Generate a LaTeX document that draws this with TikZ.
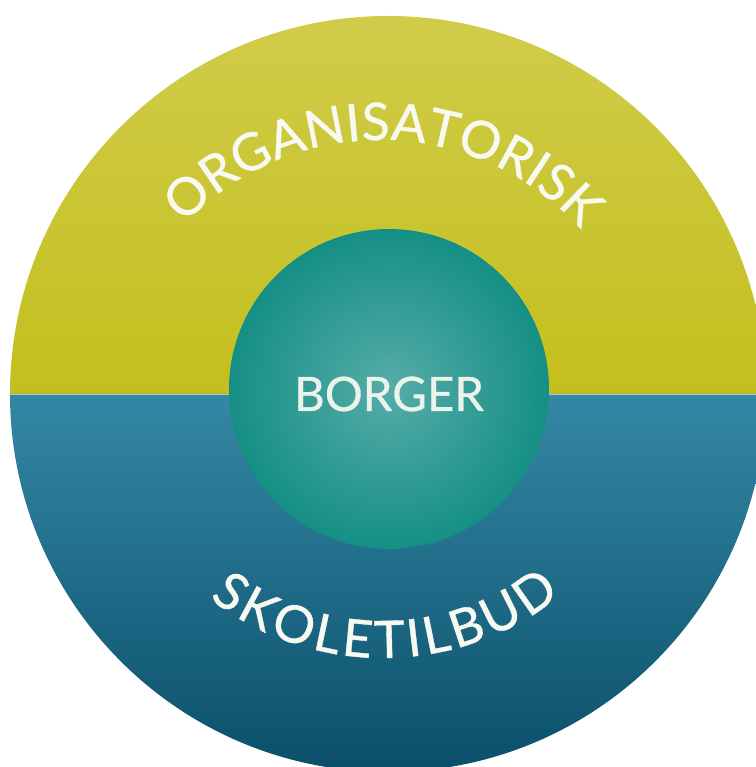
\documentclass[tikz,border=0pt]{standalone}
\usepackage{fontspec}
\setmainfont{Lato}
\newfontfamily\arcfam{Lato}[FakeBold=0.7]
\usetikzlibrary{decorations.text}

% Colores del diagrama
\definecolor{orgtop}{HTML}{D0CC4A}
\definecolor{orgbot}{HTML}{C4BF1D}
\definecolor{skoltop}{HTML}{3488A5}
\definecolor{skolbot}{HTML}{0A4F6A}
\definecolor{borgin}{HTML}{56ACA8}
\definecolor{borgout}{HTML}{158F85}
\definecolor{txtclaro}{HTML}{F8F9F0}

\newcommand{\arcfont}{\arcfam\fontsize{29.5}{29.5}\selectfont}
\newcommand{\midfont}{\arcfam\fontsize{27}{27}\selectfont}

\tikzset{
  arctext/.style={decorate, decoration={text along path, text align=fit to path,
      text color=txtclaro, text={|\arcfont|#1}}},
  centro/.style={circle, minimum size=6.4cm, inner sep=0pt,
      shading=radial, inner color=borgin, outer color=borgout}
}

\begin{document}
\begin{tikzpicture}[x=0.02cm, y=0.02cm]
        % Marco del dibujo
        \useasboundingbox (-388,-373) rectangle (368,394);
        \clip (-388,-373) rectangle (368,394);

        % Mitad superior: organisatorisk
        \shade[top color=orgtop, bottom color=orgbot] (-378,0) arc (180:0:378) -- cycle;
        % Mitad inferior: skoletilbud
        \shade[top color=skoltop, bottom color=skolbot] (-378,0) arc (180:360:378) -- cycle;
        % Linea de separacion
        \draw[white, opacity=0.6, line width=0.4pt] (-378,0) -- (378,0);

        % Circulo central
        \node[centro] (borger) at (1,5) {};
        \node[text=txtclaro!92!borgin, font=\midfont] (borgertxt) at (1,0) {BORGER};

        % Centros de los textos curvos
        \coordinate (corg) at (-8,-16);
        \coordinate (cskol) at (-5,18);

        % Textos curvos
        \path[arctext=ORGANISATORISK] ([shift={(136.5:270)}]corg) arc (136.5:43:270);
        \path[arctext=SKOLETILBUD] ([shift={(232:282)}]cskol) arc (232:309:282);
    \end{tikzpicture}
\end{document}
